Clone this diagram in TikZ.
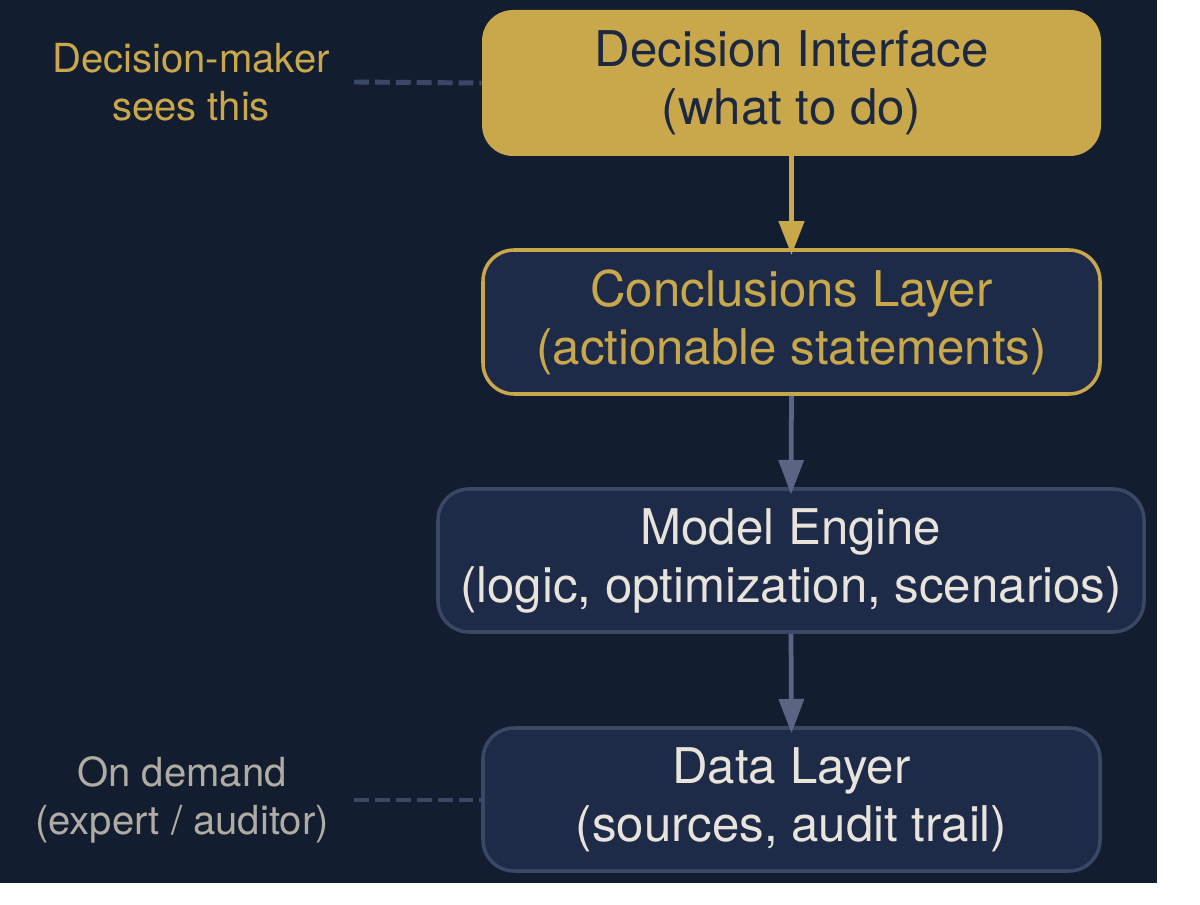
\documentclass[tikz,border=0pt]{standalone}
\usepackage{fontspec}
\setmainfont{TeX Gyre Heros}
\usetikzlibrary{arrows.meta}
\definecolor{bg}{HTML}{131D30}
\definecolor{gold}{HTML}{C9A84C}
\definecolor{boxfill}{HTML}{1E2B48}
\definecolor{boxline}{HTML}{3A4866}
\definecolor{darktext}{HTML}{1C2740}
\definecolor{lighttext}{HTML}{E8E4DC}
\definecolor{arrowgray}{HTML}{5A6584}
\definecolor{dashgray}{HTML}{3B4767}
\definecolor{sidegray}{HTML}{B0ACA4}
\tikzset{
  layer/.style={rounded corners=0.62cm, align=center, inner sep=0pt,
    font=\fontsize{28}{33}\selectfont},
  sidelabel/.style={align=center, inner sep=0pt, font=\fontsize{22.8}{27}\selectfont},
  flow/.style={draw=arrowgray, line width=2.7pt, shorten >=-4pt, -{Triangle[width=14pt,length=19.5pt]}},
  goldflow/.style={draw=gold, line width=3.3pt, shorten >=-4pt, -{Triangle[width=14pt,length=19.5pt]}},
  link/.style={draw=dashgray, line width=2.8pt, dash pattern=on 8.5pt off 3.4pt},
}
\begin{document}
\begin{tikzpicture}[x=0.02cm,y=-0.02cm]
\useasboundingbox (0,0) rectangle (1200,905);
\fill[bg] (0,0) rectangle (1157,883);
\node[layer, fill=gold, text=darktext, minimum width=619*0.02cm, minimum height=146*0.02cm] (dec) at (791.5,83) {\raisebox{-2pt}{Decision Interface}\\\raisebox{-2pt}{(what to do)}};
\node[layer, fill=boxfill, draw=gold, line width=2pt, text=gold, minimum width=617*0.02cm, minimum height=144*0.02cm] (con) at (791.5,322) {\raisebox{-2pt}{Conclusions Layer}\\\raisebox{-2pt}{(actionable statements)}};
\node[layer, fill=boxfill, draw=boxline, line width=2pt, text=lighttext, minimum width=706*0.02cm, minimum height=143*0.02cm] (mod) at (791,560.5) {\raisebox{-2pt}{Model Engine}\\\raisebox{-2pt}{(logic, optimization, scenarios)}};
\node[layer, fill=boxfill, draw=boxline, line width=2pt, text=lighttext, minimum width=617*0.02cm, minimum height=143*0.02cm] (dat) at (791.5,799.5) {\raisebox{-2pt}{Data Layer}\\\raisebox{-2pt}{(sources, audit trail)}};
\draw[goldflow] (dec.south) -- (con.north);
\draw[flow] (con.south) -- (mod.north);
\draw[flow] (mod.south) -- (dat.north);
\node[sidelabel, text=gold] (dm) at (191,82) {Decision-maker\\sees this};
\node[sidelabel, text=sidegray] (od) at (182,800) {On demand\\(expert / auditor)};
\coordinate (dmend) at (354,82);
\coordinate (odend) at (354,800);
\draw[link] (dmend) -- (dec.west);
\draw[link] (odend) -- (dat.west |- odend);
\end{tikzpicture}
\end{document}
